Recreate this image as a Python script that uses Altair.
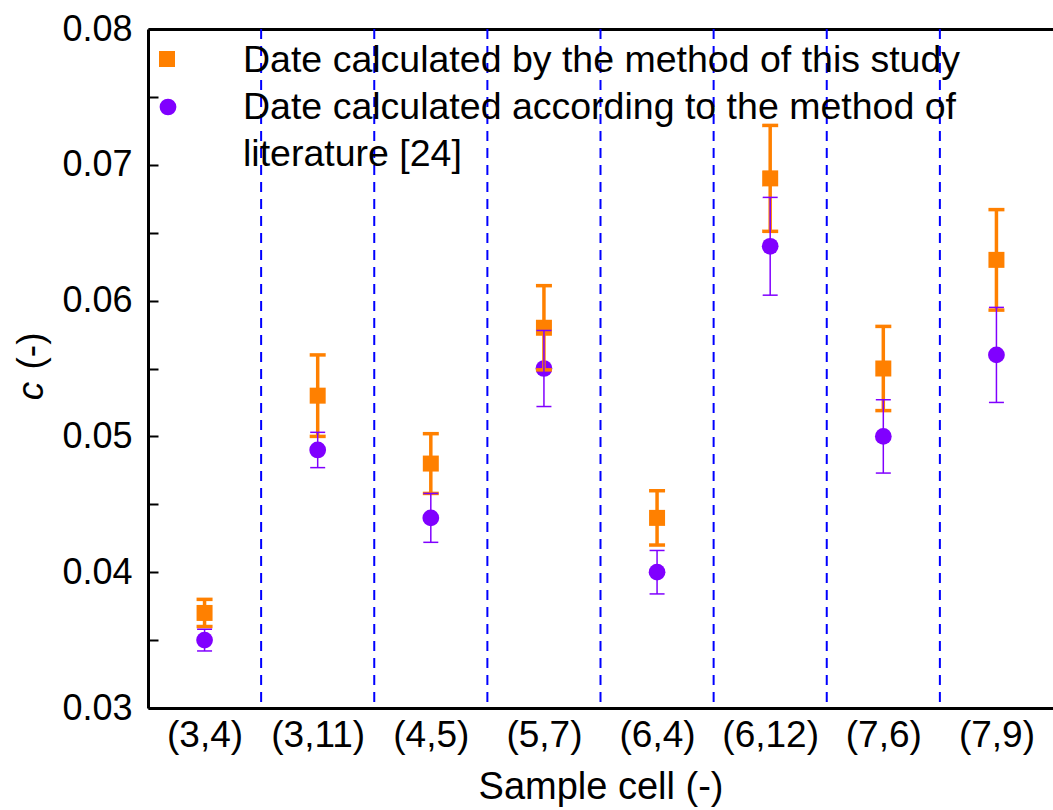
import json
import altair as alt
import pandas as pd

# ---------------- data ----------------
categories = ["(3,4)", "(3,11)", "(4,5)", "(5,7)", "(6,4)", "(6,12)", "(7,6)", "(7,9)"]
this_study = [0.037, 0.053, 0.048, 0.058, 0.044, 0.069, 0.055, 0.063]
this_study_err = [0.0010, 0.0030, 0.0022, 0.0031, 0.0020, 0.0039, 0.0031, 0.0037]
literature = [0.035, 0.049, 0.044, 0.055, 0.040, 0.064, 0.050, 0.056]
literature_err = [0.0008, 0.0013, 0.0018, 0.0028, 0.0016, 0.0036, 0.0027, 0.0035]

legend_lines = [
    "Date calculated by the method of this study",
    "Date calculated according to the method of",
    "literature [24]",
]
y_major = [0.03, 0.04, 0.05, 0.06, 0.07, 0.08]
y_minor = [0.03, 0.035, 0.04, 0.045, 0.05, 0.055, 0.06, 0.065, 0.07, 0.075, 0.08]
x_title = "Sample cell (-)"
y_title_parts = ["c", "(-)"]

ORANGE = "#FF8000"
PURPLE = "#8000FF"
FONT = "Liberation Sans"

idx = list(range(len(categories)))
df_study = pd.DataFrame({
    "idx": idx, "cell": categories, "value": this_study,
    "lo": [v - e for v, e in zip(this_study, this_study_err)],
    "hi": [v + e for v, e in zip(this_study, this_study_err)],
})
df_lit = pd.DataFrame({
    "idx": idx, "cell": categories, "value": literature,
    "lo": [v - e for v, e in zip(literature, literature_err)],
    "hi": [v + e for v, e in zip(literature, literature_err)],
})
df_bounds = pd.DataFrame({"b": [i + 0.5 for i in idx[:-1]]})

xscale = alt.Scale(domain=[-0.5, len(categories) - 0.5], nice=False, zero=False)
yscale = alt.Scale(domain=[0.03, 0.08], nice=False, zero=False)

label_expr = json.dumps(categories) + "[datum.value]"

x_axis_main = alt.Axis(
    orient="bottom", values=idx, labelExpr=label_expr, domain=True,
    domainColor="black", domainWidth=3, ticks=False, grid=False,
    labelPadding=9, labelFontSize=37, labelFont=FONT, labelColor="black",
    title=x_title, titleFontSize=38, titleFont=FONT, titleFontWeight="normal",
    titleColor="black", titlePadding=15, labelOverlap=False,
)
x_axis_top = alt.Axis(
    orient="top", domain=True, domainColor="black", domainWidth=3,
    ticks=False, labels=False, grid=False, title=None,
)
y_axis_main = alt.Axis(
    orient="left", values=y_major, format=".2f", domain=True,
    domainColor="black", domainWidth=3, ticks=False, grid=False,
    labelPadding=16, labelFontSize=36, labelFont=FONT, labelColor="black",
    title=None,
)
y_axis_ticks = alt.Axis(
    orient="left", values=y_minor, offset=-10, domain=False, ticks=True,
    tickSize=10, tickWidth=2, tickColor="black", labels=False, grid=False,
    title=None,
)

dashed = alt.Chart(df_bounds).mark_rule(
    color="#0000FF", strokeWidth=2, strokeDash=[10, 7]
).encode(x=alt.X("b:Q", scale=xscale, axis=None))

study_pts = alt.Chart(df_study).mark_point(
    shape="square", filled=True, size=256, color=ORANGE, opacity=1
).encode(
    x=alt.X("idx:Q", scale=xscale, axis=None),
    y=alt.Y("value:Q", scale=yscale, axis=None),
)
lit_pts = alt.Chart(df_lit).mark_point(
    shape="circle", filled=True, size=280, color=PURPLE, opacity=1
).encode(
    x=alt.X("idx:Q", scale=xscale, axis=x_axis_top),
    y=alt.Y("value:Q", scale=yscale, axis=y_axis_ticks),
)
study_bar = alt.Chart(df_study).mark_rule(color=ORANGE, strokeWidth=3.5).encode(
    x=alt.X("idx:Q", scale=xscale, axis=x_axis_main),
    y=alt.Y("lo:Q", scale=yscale, axis=y_axis_main),
    y2="hi:Q",
)
study_cap_lo = alt.Chart(df_study).mark_tick(
    orient="horizontal", size=16, thickness=3.5, color=ORANGE, opacity=1
).encode(
    x=alt.X("idx:Q", scale=xscale, axis=None),
    y=alt.Y("lo:Q", scale=yscale, axis=None),
)
study_cap_hi = study_cap_lo.encode(y=alt.Y("hi:Q", scale=yscale, axis=None))

lit_bar = alt.Chart(df_lit).mark_rule(color=PURPLE, strokeWidth=1.5).encode(
    x=alt.X("idx:Q", scale=xscale, axis=None),
    y=alt.Y("lo:Q", scale=yscale, axis=None),
    y2="hi:Q",
)
lit_cap_lo = alt.Chart(df_lit).mark_tick(
    orient="horizontal", size=15, thickness=1.5, color=PURPLE, opacity=1
).encode(
    x=alt.X("idx:Q", scale=xscale, axis=None),
    y=alt.Y("lo:Q", scale=yscale, axis=None),
)
lit_cap_hi = lit_cap_lo.encode(y=alt.Y("hi:Q", scale=yscale, axis=None))

# ---------------- legend (inside the plot, top-left) ----------------
one = pd.DataFrame({"k": [0]})
leg_sq = alt.Chart(one).mark_point(
    shape="square", filled=True, size=256, color=ORANGE, opacity=1
).encode(x=alt.value(19), y=alt.value(30))
leg_ci = alt.Chart(one).mark_point(
    shape="circle", filled=True, size=280, color=PURPLE, opacity=1
).encode(x=alt.value(20), y=alt.value(78))

leg_texts = []
for line, ypos in zip(legend_lines, [32, 79, 126]):
    leg_texts.append(
        alt.Chart(pd.DataFrame({"label": [line]})).mark_text(
            align="left", baseline="middle", font=FONT, fontSize=37.5, color="black"
        ).encode(x=alt.value(95), y=alt.value(ypos), text="label:N")
    )

# ---------------- y title: italic "c" + "(-)" ----------------
yt_c = alt.Chart(pd.DataFrame({"t": [y_title_parts[0]]})).mark_text(
    angle=270, align="center", baseline="middle", font=FONT, fontSize=37,
    fontStyle="italic", color="black"
).encode(x=alt.value(-116), y=alt.value(362), text="t:N")
yt_u = alt.Chart(pd.DataFrame({"t": [y_title_parts[1]]})).mark_text(
    angle=270, align="center", baseline="middle", font=FONT, fontSize=37,
    color="black"
).encode(x=alt.value(-116), y=alt.value(322), text="t:N")

chart = alt.layer(
    dashed, study_pts, lit_pts, study_bar, study_cap_lo, study_cap_hi,
    lit_bar, lit_cap_lo, lit_cap_hi, leg_sq, leg_ci, *leg_texts, yt_c, yt_u,
).resolve_axis(
    x="independent", y="independent"
).properties(
    width=905, height=679,
    autosize=alt.AutoSizeParams(type="none"),
    padding={"left": 148, "top": 29, "right": 0, "bottom": 102},
    background="white",
).configure_view(stroke=None)

chart.save("out.html", embed_options={"renderer": "svg", "actions": False})
